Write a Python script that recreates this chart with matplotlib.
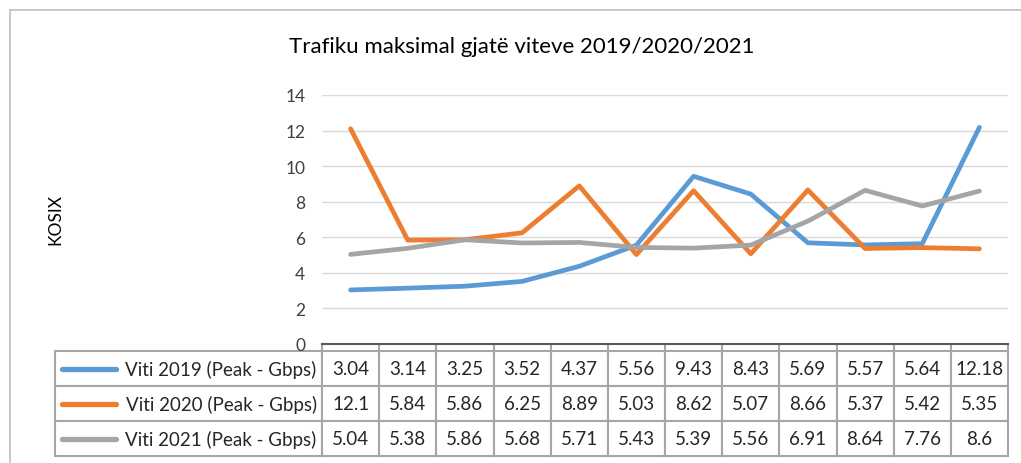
import matplotlib.pyplot as plt
from matplotlib.patches import Rectangle
from matplotlib.lines import Line2D

series_names = ["Viti 2019 (Peak - Gbps)", "Viti 2020 (Peak - Gbps)", "Viti 2021 (Peak - Gbps)"]
viti_2019 = [3.04, 3.14, 3.25, 3.52, 4.37, 5.56, 9.43, 8.43, 5.69, 5.57, 5.64, 12.18]
viti_2020 = [12.1, 5.84, 5.86, 6.25, 8.89, 5.03, 8.62, 5.07, 8.66, 5.37, 5.42, 5.35]
viti_2021 = [5.04, 5.38, 5.86, 5.68, 5.71, 5.43, 5.39, 5.56, 6.91, 8.64, 7.76, 8.6]
colors = ["#5B9BD5", "#ED7D31", "#A5A5A5"]
all_series = [viti_2019, viti_2020, viti_2021]

plt.rcParams['font.family'] = ['Lato', 'DejaVu Sans']

W, H = 1021, 464
fig = plt.figure(figsize=(W / 100, H / 100), dpi=100)

# outer chart border (Excel chart area)
fig.patches.append(Rectangle((10 / W, -0.1), 1.2, (H - 11) / H + 0.1, transform=fig.transFigure,
                             fill=False, edgecolor="#bfbfbf", linewidth=1.2))

# plot area in pixels
left, right, top, bottom = 322, 1008, 96, 345
ax = fig.add_axes([left / W, (H - bottom) / H, (right - left) / W, (bottom - top) / H])

x = list(range(len(viti_2019)))
for vals, c in zip(all_series, colors):
    ax.plot(x, vals, color=c, linewidth=3.4, solid_capstyle='round', solid_joinstyle='round', zorder=3)

ax.set_xlim(-0.5, len(x) - 0.5)
ax.set_ylim(0, 14)
ax.set_yticks(range(0, 15, 2))
ax.grid(axis='y', color="#d9d9d9", linewidth=1)
ax.set_axisbelow(True)
for s in ['top', 'right', 'left']:
    ax.spines[s].set_visible(False)
ax.spines['bottom'].set_color("#595959")
ax.spines['bottom'].set_linewidth(1.5)
ax.tick_params(axis='y', length=0, labelsize=12.5, labelcolor="#404040", pad=12)
ax.set_xticks([i - 0.5 for i in range(len(x) + 1)])
ax.set_xticklabels([])
ax.tick_params(axis='x', length=7, width=1.5, color="#a6a6a6", direction='out')

fig.text(522 / W, 1 - 47 / H, "Trafiku maksimal gjatë viteve 2019/2020/2021",
         ha='center', va='center', fontsize=16, color="#000000")
fig.text(55 / W, 1 - 220 / H, "KOSIX", rotation=90, ha='center', va='center', fontsize=12.5)

# data table under the plot
tbl_left, tbl_top, tbl_bot = 55, 352, 457
cell_text = [[f"{v:g}" for v in vals] for vals in all_series]
label_w = right - tbl_left - (right - left)
col_w = (right - left) / len(x)
total_w = right - tbl_left
widths = [label_w / total_w] + [col_w / total_w] * len(x)
rows = [[n] + r for n, r in zip(series_names, cell_text)]
bx0 = (tbl_left - left) / (right - left)
by0 = (bottom - tbl_bot) / (bottom - top)
bh = (tbl_bot - tbl_top) / (bottom - top)
tbl = ax.table(cellText=rows, colWidths=widths, cellLoc='center',
               bbox=[bx0, by0, total_w / (right - left), bh])
tbl.auto_set_font_size(False)
for (r, c), cell in tbl.get_celld().items():
    cell.set_edgecolor("#a6a6a6")
    cell.set_linewidth(1.5)
    cell.get_text().set_fontsize(13.5)
    cell.get_text().set_color("#262626")
    if c == 0:
        cell.get_text().set_ha('right')
        cell._loc = 'right'
        cell.PAD = 0.02

# legend keys inside the label cells
row_h = (tbl_bot - tbl_top) / 3
for i, c in enumerate(colors):
    yc = 1 - (tbl_top + row_h * (i + 0.5)) / H
    fig.add_artist(Line2D([62 / W, 116 / W], [yc, yc], color=c, linewidth=3.8,
                          solid_capstyle='round', transform=fig.transFigure))

fig.savefig("out.png", dpi=100)
